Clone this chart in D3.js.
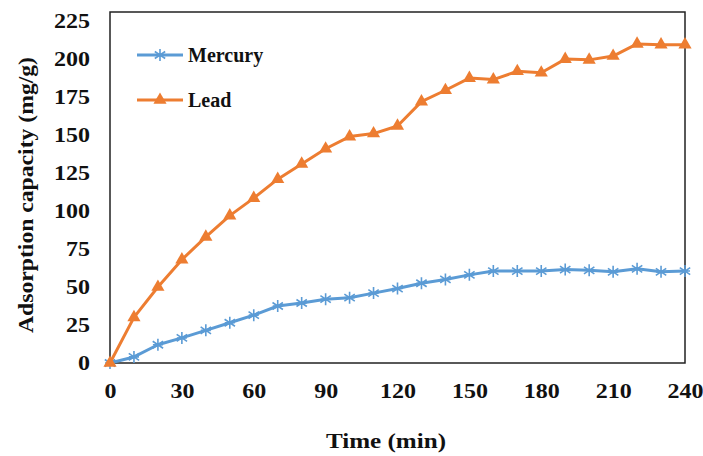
<!DOCTYPE html>
<html lang="en">
<head>
  <meta charset="UTF-8">
  <title>Adsorption capacity</title>
  <style>
    body, html {
      margin: 0;
      padding: 0;
      background-color: white;
    }
    text {
      font-family: "Liberation Serif", "Times New Roman", serif;
      font-weight: bold;
      fill: #111;
    }
  </style>
</head>
<body>
  <svg id="svg" width="703" height="456"></svg>
  <script src="https://d3js.org/d3.v7.min.js"></script>
  <script>
    const times = [0, 10, 20, 30, 40, 50, 60, 70, 80, 90, 100, 110, 120, 130, 140, 150, 160, 170, 180, 190, 200, 210, 220, 230, 240]
    const mercury = [0, 4, 12, 16.5, 21.5, 26.5, 31.5, 37.5, 39.5, 42, 43, 46, 49, 52.5, 55, 58, 60.5, 60.5, 60.5, 61.5, 61, 60, 62, 60, 60.5]
    const lead = [0, 30, 50, 68, 83, 97, 108.5, 121, 131, 141, 149, 151, 156, 172, 179.5, 187.5, 186.5, 192, 191, 200, 199.5, 202, 210, 209.5, 209.5]
    const xTicks = [0, 30, 60, 90, 120, 150, 180, 210, 240]
    const yTicks = [0, 25, 50, 75, 100, 125, 150, 175, 200, 225]
    const seriesNames = ['Mercury', 'Lead']
    const seriesColors = ['#5b9bd5', '#ed7d31']

    const plotLeft = 110, plotRight = 685, plotTop = 12, plotBottom = 363
    const svg = d3.select('#svg')

    const xScale = d3.scaleLinear().domain([0, 240]).range([plotLeft, plotRight])
    const yScale = d3.scaleLinear().domain([0, 231]).range([plotBottom, plotTop])

    // frame
    svg.append('rect')
      .attr('x', plotLeft).attr('y', plotTop)
      .attr('width', plotRight - plotLeft).attr('height', plotBottom - plotTop)
      .attr('fill', 'none').attr('stroke', '#222').attr('stroke-width', 1.5)

    const xAxis = svg.append('g')
      .attr('transform', `translate(0, ${plotBottom})`)
      .call(d3.axisBottom(xScale).tickValues(xTicks).tickSize(0).tickPadding(21))
    const yAxis = svg.append('g')
      .attr('transform', `translate(${plotLeft}, 0)`)
      .call(d3.axisLeft(yScale).tickValues(yTicks).tickSize(0).tickPadding(20))
    ;[xAxis, yAxis].forEach(ax => {
      ax.select('.domain').remove()
      ax.selectAll('text')
        .attr('class', 'stretch')
        .style('font-family', '"Liberation Serif", serif')
        .style('font-weight', 'bold')
        .style('font-size', '20px')
        .attr('fill', '#111')
    })

    const starPath = 'M0,-6L0,6M-5.2,-3.5L5.2,3.5M-5.2,3.5L5.2,-3.5M-5,0L5,0'
    const tri = d3.symbol().type(d3.symbolTriangle).size(75)

    const series = [mercury, lead]
    series.forEach((vals, i) => {
      const pts = times.map((t, j) => [t, vals[j]])
      svg.append('path')
        .datum(pts)
        .attr('fill', 'none')
        .attr('stroke', seriesColors[i])
        .attr('stroke-width', 3)
        .attr('stroke-linejoin', 'round')
        .attr('d', d3.line().x(d => xScale(d[0])).y(d => yScale(d[1])))
      const m = svg.append('g').selectAll('path')
        .data(pts).enter().append('path')
        .attr('transform', d => `translate(${xScale(d[0])}, ${yScale(d[1])})`)
      if (i === 0) {
        m.attr('d', starPath).attr('stroke', seriesColors[0]).attr('stroke-width', 1.6).attr('fill', 'none')
      } else {
        m.attr('d', tri).attr('fill', seriesColors[1])
      }
    })

    // legend
    const legY = [55, 100]
    seriesNames.forEach((name, i) => {
      const g = svg.append('g').attr('transform', `translate(0, ${legY[i]})`)
      g.append('line').attr('x1', 137).attr('x2', 183)
        .attr('stroke', seriesColors[i]).attr('stroke-width', 3)
      if (i === 0) {
        g.append('path').attr('d', starPath).attr('transform', 'translate(160,0)')
          .attr('stroke', seriesColors[0]).attr('stroke-width', 1.6).attr('fill', 'none')
      } else {
        g.append('path').attr('d', tri).attr('transform', 'translate(160,0)').attr('fill', seriesColors[1])
      }
      g.append('text')
        .attr('x', 188).attr('y', 0).attr('dy', '0.35em')
        .style('font-size', '20px')
        .text(name)
    })

    // axis titles
    svg.append('text')
      .attr('x', 386).attr('y', 440).attr('dy', '0.35em')
      .attr('text-anchor', 'middle')
      .attr('textLength', 120).attr('lengthAdjust', 'spacingAndGlyphs')
      .style('font-size', '22px')
      .text('Time (min)')
    svg.append('text')
      .attr('transform', 'translate(26, 195) rotate(-90)')
      .attr('text-anchor', 'middle').attr('dy', '0.35em')
      .attr('textLength', 276).attr('lengthAdjust', 'spacingAndGlyphs')
      .style('font-size', '21px')
      .text('Adsorption capacity (mg/g)')

    // tick labels are a bit wider than the plain font
    svg.selectAll('text.stretch').each(function () {
      const len = this.getComputedTextLength()
      d3.select(this).attr('textLength', len * 1.2).attr('lengthAdjust', 'spacingAndGlyphs')
    })
  </script>
</body>
</html>
